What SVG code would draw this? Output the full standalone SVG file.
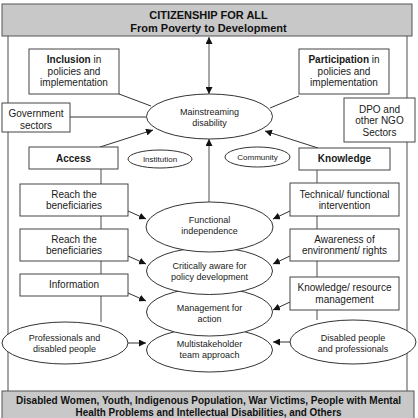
<svg xmlns="http://www.w3.org/2000/svg" width="418" height="418" viewBox="0 0 418 418">
<style>
.box{fill:#fff;stroke:#444;stroke-width:1}
.ban{fill:#c8c8c8;stroke:#555;stroke-width:1}
.el{fill:#fff;stroke:#333;stroke-width:1}
.t{font-family:"Liberation Sans",Arial,sans-serif;font-size:10px;fill:#1a1a1a;text-anchor:middle}
.s9{font-size:9px}
.s8{font-size:8px}
.b{font-weight:bold}
.tt{font-family:"Liberation Sans",Arial,sans-serif;font-size:11px;font-weight:bold;fill:#111;text-anchor:middle}
.bt{font-size:10px}
.ln{stroke:#333;stroke-width:1;fill:none}
.gl{stroke:#888;stroke-width:1.5;fill:none}
</style>
<defs>
<marker id="ah" viewBox="0 0 10 10" refX="10" refY="5" markerWidth="7" markerHeight="7" markerUnits="userSpaceOnUse" orient="auto-start-reverse">
<path d="M0,0 L10,5 L0,10 z" fill="#111"/>
</marker>
</defs>
<rect x="0" y="0" width="418" height="418" fill="#fff"/>
<g id="connectors">
<line class="gl" x1="8" y1="36" x2="8" y2="391"/>
<line class="gl" x1="407" y1="36" x2="407" y2="391"/>
<line class="gl" x1="209" y1="37" x2="209" y2="94" marker-start="url(#ah)" marker-end="url(#ah)"/>
<line class="gl" x1="209" y1="202" x2="209" y2="139" marker-end="url(#ah)"/>
<line class="gl" x1="101" y1="169" x2="101" y2="322"/>
<line class="gl" x1="317" y1="170" x2="317" y2="320"/>
<line class="ln" x1="119" y1="94" x2="151" y2="106"/>
<line class="ln" x1="70" y1="117" x2="146" y2="117"/>
<line class="ln" x1="299" y1="96" x2="270" y2="108"/>
<line class="ln" x1="100" y1="147" x2="153" y2="130" marker-end="url(#ah)"/>
<line class="ln" x1="318" y1="148" x2="265" y2="131" marker-end="url(#ah)"/>
<line class="ln" x1="128" y1="211" x2="146" y2="219" marker-end="url(#ah)"/>
<line class="ln" x1="128" y1="256" x2="146" y2="264" marker-end="url(#ah)"/>
<line class="ln" x1="128" y1="293" x2="146" y2="301" marker-end="url(#ah)"/>
<line class="ln" x1="128" y1="343" x2="146" y2="343" marker-end="url(#ah)"/>
<line class="ln" x1="290" y1="211" x2="273" y2="219" marker-end="url(#ah)"/>
<line class="ln" x1="290" y1="256" x2="273" y2="264" marker-end="url(#ah)"/>
<line class="ln" x1="290" y1="302" x2="273" y2="310" marker-end="url(#ah)"/>
<line class="ln" x1="290" y1="342" x2="273" y2="342" marker-end="url(#ah)"/>
</g>
<g id="top-banner">
<rect class="ban" x="2" y="4" width="410" height="32"/>
<text class="tt" x="208.5" y="19">CITIZENSHIP FOR ALL</text>
<text class="tt" x="208.5" y="32">From Poverty to Development</text>
</g>
<g id="bottom-banner">
<rect class="ban" x="2" y="391" width="412" height="30"/>
<text class="tt bt" x="208.5" y="404" textLength="385" lengthAdjust="spacingAndGlyphs">Disabled Women, Youth, Indigenous Population, War Victims, People with Mental</text>
<text class="tt bt" x="208.5" y="416" textLength="266" lengthAdjust="spacingAndGlyphs">Health Problems and Intellectual Disabilities, and Others</text>
</g>
<g id="inclusion">
<rect class="box" x="29" y="49" width="90" height="45"/>
<text class="t" x="74" y="63"><tspan class="b">Inclusion</tspan> in</text>
<text class="t" x="74" y="74.5">policies and</text>
<text class="t" x="74" y="86">implementation</text>
</g>
<g id="participation">
<rect class="box" x="299" y="49" width="90" height="45"/>
<text class="t" x="344" y="63"><tspan class="b">Participation</tspan> in</text>
<text class="t" x="344" y="74.5">policies and</text>
<text class="t" x="344" y="86">implementation</text>
</g>
<g id="government">
<rect class="box" x="2" y="103" width="68" height="29"/>
<text class="t" x="36" y="116.5">Government</text>
<text class="t" x="36" y="128.5">sectors</text>
</g>
<g id="dpo">
<rect class="box" x="344" y="98" width="71" height="44"/>
<text class="t" x="379.5" y="112.5">DPO and</text>
<text class="t" x="379.5" y="124">other NGO</text>
<text class="t" x="379.5" y="135.5">Sectors</text>
</g>
<g id="mainstreaming">
<ellipse class="el" cx="209.5" cy="116.5" rx="63" ry="22.5"/>
<text class="t s9" x="209.5" y="115">Mainstreaming</text>
<text class="t s9" x="209.5" y="126">disability</text>
</g>
<g id="access">
<rect class="box" x="29" y="147" width="89" height="22"/>
<text class="t b" x="73.5" y="161.5">Access</text>
</g>
<g id="knowledge">
<rect class="box" x="299" y="148" width="91" height="22"/>
<text class="t b" x="344.5" y="162">Knowledge</text>
</g>
<g id="institution">
<ellipse class="el" cx="160" cy="159" rx="32" ry="9"/>
<text class="t s8" x="160" y="162">Institution</text>
</g>
<g id="community">
<ellipse class="el" cx="257.5" cy="157" rx="32.5" ry="10"/>
<text class="t s8" x="257.5" y="160">Community</text>
</g>
<g id="reach1">
<rect class="box" x="20" y="184" width="108" height="32"/>
<text class="t" x="74" y="197.5">Reach the</text>
<text class="t" x="74" y="209">beneficiaries</text>
</g>
<g id="reach2">
<rect class="box" x="20" y="229" width="108" height="32"/>
<text class="t" x="74" y="242.5">Reach the</text>
<text class="t" x="74" y="254">beneficiaries</text>
</g>
<g id="information">
<rect class="box" x="20" y="274" width="108" height="22"/>
<text class="t" x="74" y="288">Information</text>
</g>
<g id="professionals">
<ellipse class="el" cx="65" cy="343" rx="63" ry="21"/>
<text class="t s9" x="64.5" y="340.5">Professionals and</text>
<text class="t s9" x="64.5" y="351.5">disabled people</text>
</g>
<g id="technical">
<rect class="box" x="290" y="183" width="109" height="33"/>
<text class="t" x="344.5" y="197.5">Technical/ functional</text>
<text class="t" x="344.5" y="209">intervention</text>
</g>
<g id="awareness">
<rect class="box" x="290" y="229" width="109" height="32"/>
<text class="t" x="344.5" y="242.5">Awareness of</text>
<text class="t" x="344.5" y="254">environment/ rights</text>
</g>
<g id="knowledge-resource">
<rect class="box" x="290" y="277" width="109" height="33"/>
<text class="t" x="344.5" y="291">Knowledge/ resource</text>
<text class="t" x="344.5" y="302.5">management</text>
</g>
<g id="disabled-people">
<ellipse class="el" cx="353" cy="342" rx="63" ry="22"/>
<text class="t s9" x="353" y="340.5">Disabled people</text>
<text class="t s9" x="353" y="351.5">and professionals</text>
</g>
<g id="multistakeholder">
<ellipse class="el" cx="209.5" cy="350" rx="63" ry="22"/>
<text class="t s9" x="209.5" y="347">Multistakeholder</text>
<text class="t s9" x="209.5" y="358">team approach</text>
</g>
<g id="management">
<ellipse class="el" cx="209.5" cy="312" rx="63" ry="24"/>
<text class="t s9" x="209.5" y="311">Management for</text>
<text class="t s9" x="209.5" y="322">action</text>
</g>
<g id="critically">
<ellipse class="el" cx="209.5" cy="271" rx="63" ry="23.5"/>
<text class="t s9" x="209.5" y="269">Critically aware for</text>
<text class="t s9" x="209.5" y="280">policy development</text>
</g>
<g id="functional">
<ellipse class="el" cx="209.5" cy="227" rx="63.5" ry="25"/>
<text class="t s9" x="209.5" y="223">Functional</text>
<text class="t s9" x="209.5" y="234">independence</text>
</g>
</svg>
